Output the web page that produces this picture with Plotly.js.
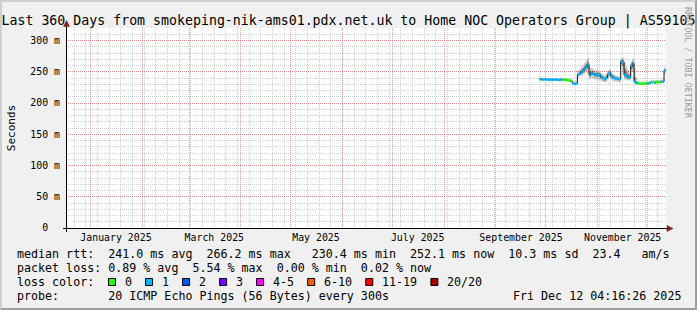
<!DOCTYPE html>
<html><head><meta charset="utf-8">
<script src="https://cdn.plot.ly/plotly-3.0.1.min.js"></script>
<style>
html,body{margin:0;padding:0;background:#f0f0f0;}
#frame{position:absolute;left:0;top:0;width:697px;height:310px;box-sizing:border-box;border-style:solid;border-width:2px;border-color:#cfcfcf #9e9e9e #9e9e9e #cfcfcf;background:#f0f0f0;}
#chart{position:absolute;left:0;top:0;width:693px;height:306px;}
</style></head><body>
<div id="frame"><div id="chart"></div></div>
<script>
// ---- data ----
const dates = [
 '2025-09-27','2025-09-28','2025-09-29','2025-09-30',
 '2025-10-01','2025-10-02','2025-10-03','2025-10-04','2025-10-05','2025-10-06','2025-10-07','2025-10-08','2025-10-09','2025-10-10',
 '2025-10-11','2025-10-12','2025-10-13','2025-10-14','2025-10-15','2025-10-16','2025-10-17','2025-10-18','2025-10-19','2025-10-20',
 '2025-10-21','2025-10-22','2025-10-23','2025-10-24','2025-10-25','2025-10-26','2025-10-27','2025-10-28','2025-10-29','2025-10-30','2025-10-31',
 '2025-11-01','2025-11-02','2025-11-03','2025-11-04','2025-11-05','2025-11-06','2025-11-07','2025-11-08','2025-11-09','2025-11-10',
 '2025-11-11','2025-11-12','2025-11-13','2025-11-14','2025-11-15','2025-11-16','2025-11-17','2025-11-18','2025-11-19','2025-11-20',
 '2025-11-21','2025-11-22','2025-11-23','2025-11-24','2025-11-25','2025-11-26','2025-11-27','2025-11-28','2025-11-29','2025-11-30',
 '2025-12-01','2025-12-02','2025-12-03','2025-12-04','2025-12-05','2025-12-06','2025-12-07','2025-12-08','2025-12-09','2025-12-10','2025-12-11'
];
const dataEnd = '2025-12-12 00:00';
const medianMs = [
 238,238,237.5,238,
 237.5,237.5,237,237.5,237,237.5,237.5,237,237,237.5,
 237,237.5,237,236.5,235.5,234.5,231.5,230.4,231,245.5,
 247,249,251.5,254.5,257.5,261.5,244.5,247.5,248,245,245.5,
 244.5,245,241,240,238,240,246,248.5,243,241,
 240,239,238.5,238,266.2,265.5,245,243.5,241.5,241,
 259.5,263.5,234.5,232,231.5,231,231,231,231,231.5,
 231,232,233,233.5,232.5,233.5,233,233.5,234,234,252.1
];
const lossClass = [
 1,1,1,1,
 1,1,1,1,1,1,1,1,1,1,
 0,0,0,0,0,0,1,1,1,1,
 1,1,1,1,1,1,1,1,1,1,1,
 1,1,1,1,1,1,1,1,1,1,
 1,1,1,1,1,1,1,1,1,1,
 1,1,1,1,0,0,0,0,0,0,
 1,1,0,0,1,0,0,0,1,1,1
];
const smokeLo = [
 236.5,236.5,236,236.5,
 236,236,235.5,236,235.5,236,236,235.5,235.5,236,
 235.5,236,235.5,235,234,233,230,229,229.5,241,
 242,243,245,247,249,252,238,240,240,238,238,
 237,237,235,234,233,234,239,241,237,235,
 234,234,233.5,233,258,252,238,237,236,236,
 250,250,231,230,230,229.5,229.5,229.5,229.5,230,
 229.5,230.5,231.5,232,231,232,231.5,232,232.5,232.5,246
];
const smokeHi = [
 240.5,240.5,240,240.5,
 240,240,239.5,240,239.5,240,240,239.5,239.5,240,
 239.5,240,239.5,239,238.5,238,235,234,235,252,
 255,258,261,265,269,272,258,256,255,252,253,
 251,251,248,246,244,247,252,255,250,247,
 245,244,243,242,273,272,266,259,253,249,
 267,271,256,240,235,234.5,234.5,234.5,234.5,235,
 234.5,235.5,236.5,237,236,237,236.5,237,237.5,237.5,258
];
const innerLo = [
 237.5,237.5,237,237.5,
 237,237,236.5,237,236.5,237,237,236.5,236.5,237,
 236.5,237,236.5,236,235,234,231,230,230.5,244,
 245,247,249,252,255,258,242,245,245,242,243,
 242,242,239,238,236,238,243,246,241,239,
 238,237,237,236.5,263,260,242,240,239,239,
 255,257,233,231,231,230.5,230.5,230.5,230.5,231,
 230.5,231.5,232.5,233,232,233,232.5,233,233.5,233.5,250
];
const innerHi = [
 239,239,238.5,239,
 238.5,238.5,238,238.5,238,238.5,238.5,238,238,238.5,
 238,238.5,238,237.5,236.5,235.5,232.5,231.5,232,248,
 250,253,256,259,263,266,250,251,251,248,249,
 248,248,244,243,241,243,249,251,246,244,
 242,241,240.5,240,269,269,255,250,246,244,
 263,267,242,234,232.5,232,232,232,232,232.5,
 232,233,234,234.5,233.5,234.5,234,234.5,235,235,254
];
const rangeStart = '2024-12-17 04:16:26';
const rangeEnd = '2025-12-12 04:16:26';
const monthStarts = ['2025-01-01','2025-02-01','2025-03-01','2025-04-01','2025-05-01','2025-06-01','2025-07-01','2025-08-01','2025-09-01','2025-10-01','2025-11-01','2025-12-01'];
const labelDates = ['2025-01-16 04:00','2025-03-16 04:00','2025-05-16 04:00','2025-07-16 04:00','2025-09-16 04:00','2025-11-16 04:00'];
const labelText = ['January 2025','March 2025','May 2025','July 2025','September 2025','November 2025'];
const yTickVals = [0,50,100,150,200,250,300];
const yTickText = ['0\u00a0\u00a0','50 m','100 m','150 m','200 m','250 m','300 m'];
const lossLabels = ['0','1','2','3','4-5','6-10','11-19','20/20'];
const lossColors = ['#26ff00','#00b8ff','#0059ff','#7e00ff','#ff00ff','#ff5e00','#ff0000','#a10000'];
const titleText = 'Last 360 Days from smokeping-nik-ams01.pdx.net.uk to Home NOC Operators Group | AS59105';
const legendLines = [
 'median rtt:  241.0 ms avg  266.2 ms max   230.4 ms min  252.1 ms now  10.3 ms sd  23.4   am/s',
 'packet loss: 0.89 % avg  5.54 % max  0.00 % min  0.02 % now',
 'loss color:',
 'probe:       20 ICMP Echo Pings (56 Bytes) every 300s'
];
const stampText = 'Fri Dec 12 04:16:26 2025';
const watermark = 'RRDTOOL / TOBI OETIKER';

// ---- helpers ----
const px2x = px => (px - 66) / 600;
const py2y = py => (228 - py) / 200;
const nb = s => s.replace(/ /g, '\u00a0');
const MONO = 'DejaVu Sans Mono';
const ext = arr => arr.concat([arr[arr.length - 1]]);
const xs = dates.concat([dataEnd]);

const traces = [];
const band = (lo, hi, color) => {
  traces.push({x: xs, y: ext(lo), mode: 'lines', line: {width: 0, shape: 'hv'}, hoverinfo: 'skip', showlegend: false});
  traces.push({x: xs, y: ext(hi), mode: 'lines', line: {width: 0, shape: 'hv'}, fill: 'tonexty', fillcolor: color, hoverinfo: 'skip', showlegend: false});
};
band(smokeLo, smokeHi, 'rgba(0,0,0,0.2)');
band(innerLo, innerHi, 'rgba(0,0,0,0.38)');
traces.push({x: xs, y: ext(medianMs), mode: 'lines', line: {width: 1, color: '#111111', shape: 'hv'}, hoverinfo: 'skip', showlegend: false});
lossLabels.forEach((lab, c) => {
  const sx = [], sy = [];
  for (let i = 0; i < dates.length; i++) {
    if (lossClass[i] === c) { sx.push(xs[i], xs[i + 1], null); sy.push(medianMs[i], medianMs[i], null); }
  }
  if (sx.length) traces.push({x: sx, y: sy, mode: 'lines', line: {width: 2.5, color: lossColors[c]}, hoverinfo: 'skip', showlegend: false, connectgaps: false});
});
traces.push({x: [], y: [], xaxis: 'x2', yaxis: 'y', mode: 'lines', showlegend: false, hoverinfo: 'skip'});

const shapes = [
  {type: 'line', xref: 'paper', yref: 'paper', x0: px2x(63), x1: px2x(668), y0: py2y(228.5), y1: py2y(228.5), line: {color: '#000', width: 1}},
  {type: 'line', xref: 'paper', yref: 'paper', x0: px2x(66.5), x1: px2x(66.5), y0: py2y(232), y1: py2y(25), line: {color: '#000', width: 1}},
  {type: 'path', xref: 'paper', yref: 'paper', path: `M${px2x(667)},${py2y(225.5)} L${px2x(673)},${py2y(228.5)} L${px2x(667)},${py2y(231.5)} Z`, fillcolor: '#7f1f1f', line: {color: '#7f1f1f', width: 0.5}},
  {type: 'path', xref: 'paper', yref: 'paper', path: `M${px2x(63.5)},${py2y(26.5)} L${px2x(66.5)},${py2y(20.5)} L${px2x(69.5)},${py2y(26.5)} Z`, fillcolor: '#7f1f1f', line: {color: '#7f1f1f', width: 0.5}}
];
const ann = [];
const lineY = [253.7, 267.7, 281.5, 295.5];
legendLines.forEach((t, i) => ann.push({text: nb(t), xref: 'paper', yref: 'paper', x: px2x(16), y: py2y(lineY[i]), xanchor: 'left', yanchor: 'middle', showarrow: false, borderpad: 0, font: {family: MONO, size: 11.67, color: '#000'}}));
ann.push({text: nb(stampText), xref: 'paper', yref: 'paper', x: px2x(681.5), y: py2y(lineY[3]), xanchor: 'right', yanchor: 'middle', showarrow: false, borderpad: 0, font: {family: MONO, size: 11.67, color: '#000'}});
let ex = 16 + 13 * 7.024;
lossLabels.forEach((lab, i) => {
  shapes.push({type: 'rect', xref: 'paper', yref: 'paper', x0: px2x(ex + 1.2), x1: px2x(ex + 8.2), y0: py2y(285.5), y1: py2y(278.5), fillcolor: lossColors[i], line: {color: '#000', width: 1}});
  ann.push({text: nb(lab), xref: 'paper', yref: 'paper', x: px2x(ex + 16.7), y: py2y(lineY[2]), xanchor: 'left', yanchor: 'middle', showarrow: false, borderpad: 0, font: {family: MONO, size: 11.67, color: '#000'}});
  ex += 16.7 + lab.length * 7.024 + 13.3;
});
ann.push({text: nb(watermark), xref: 'paper', yref: 'paper', x: px2x(688), y: py2y(63), xanchor: 'center', yanchor: 'middle', textangle: 90, showarrow: false, borderpad: 0, font: {family: MONO, size: 8.4, color: '#9a9a9a'}});

const gridMajor = 'rgba(222,80,80,0.55)';
const gridMinor = 'rgba(140,140,140,0.4)';
const layout = {
  width: 693, height: 306,
  margin: {l: 64, r: 29, t: 26, b: 80, pad: 0},
  paper_bgcolor: '#f0f0f0', plot_bgcolor: '#ffffff',
  showlegend: false,
  font: {family: MONO, size: 9.9, color: '#000'},
  title: {text: titleText, x: 0.5, xanchor: 'center', y: 1 - 18.5 / 306, yanchor: 'middle', font: {family: MONO, size: 13.25, color: '#000'}},
  xaxis: {type: 'date', range: [rangeStart, rangeEnd], tickmode: 'array', tickvals: monthStarts, showticklabels: false,
    showgrid: true, gridcolor: gridMajor, griddash: '1px,1px', gridwidth: 1, zeroline: false, showline: false, ticks: '', fixedrange: true,
    minor: {tickmode: 'linear', tick0: '2024-12-22', dtick: 7 * 86400000, showgrid: true, gridcolor: gridMinor, griddash: '1px,1px', gridwidth: 1, ticks: ''}},
  xaxis2: {type: 'date', overlaying: 'x', anchor: 'y', side: 'bottom', range: [rangeStart, rangeEnd], tickmode: 'array', tickvals: labelDates, ticktext: labelText,
    showgrid: false, zeroline: false, showline: false, ticks: '', tickfont: {family: MONO, size: 9.9, color: '#000'}, ticklabelstandoff: 2, fixedrange: true},
  yaxis: {range: [0, 320], tickmode: 'array', tickvals: yTickVals, ticktext: yTickText, showgrid: true, gridcolor: gridMajor, griddash: '1px,1px', gridwidth: 1,
    zeroline: false, showline: false, ticks: '', tickfont: {family: MONO, size: 9.9, color: '#000'}, ticklabelstandoff: 5, fixedrange: true,
    minor: {tickmode: 'linear', tick0: 0, dtick: 10, showgrid: true, gridcolor: gridMinor, griddash: '1px,1px', gridwidth: 1, ticks: ''},
    title: {text: 'Seconds', font: {family: MONO, size: 11, color: '#000'}, standoff: 12}},
  shapes: shapes,
  annotations: ann
};
Plotly.newPlot('chart', traces, layout, {staticPlot: true, displayModeBar: false});
</script>
</body></html>
